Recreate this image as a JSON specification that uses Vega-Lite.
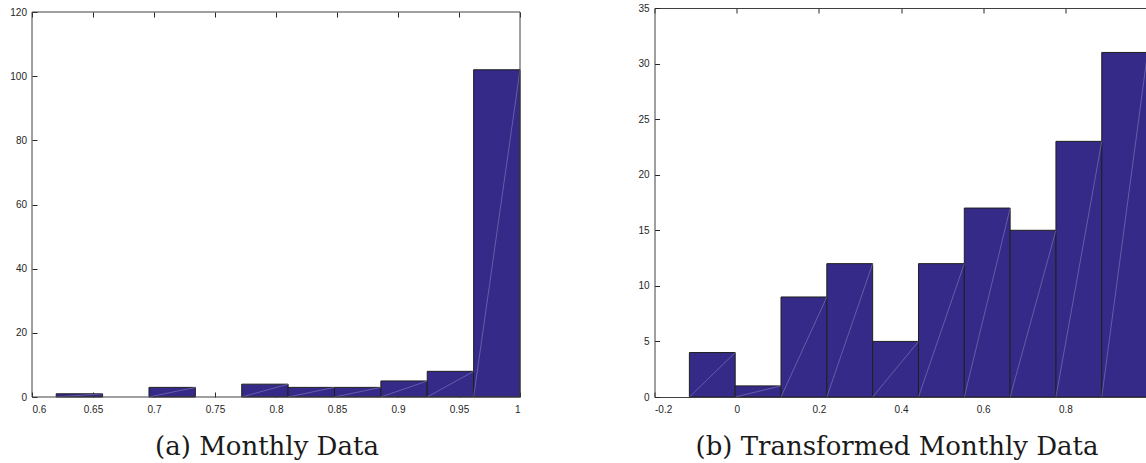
{
  "$schema": "https://vega.github.io/schema/vega-lite/v6.json",
  "background": "white",
  "padding": {"left": 9, "top": 3, "right": 0, "bottom": 0},
  "bounds": "flush",
  "spacing": 134.5,
  "config": {
    "view": {"stroke": null},
    "font": "Liberation Sans",
    "axis": {
      "grid": false,
      "title": null,
      "labelFont": "Liberation Sans",
      "labelFontSize": 10,
      "labelColor": "#262626",
      "domainColor": "#404040",
      "domainWidth": 1,
      "tickColor": "#262626",
      "tickWidth": 1,
      "tickSize": -5,
      "labelPadding": 10.5
    },
    "title": {
      "font": "DejaVu Serif",
      "fontSize": 26,
      "fontWeight": "normal",
      "color": "#1a1a1a",
      "orient": "bottom",
      "anchor": "middle",
      "offset": 20
    }
  },
  "hconcat": [
    {
      "width": 488,
      "height": 389,
      "title": {"text": "(a) Monthly Data", "dx": -9},
      "data": {
        "values": [
          {"start": 0.61985, "end": 0.65787, "count": 1},
          {"start": 0.65787, "end": 0.69588, "count": 0},
          {"start": 0.69588, "end": 0.7339, "count": 3},
          {"start": 0.7339, "end": 0.77191, "count": 0},
          {"start": 0.77191, "end": 0.80993, "count": 4},
          {"start": 0.80993, "end": 0.84794, "count": 3},
          {"start": 0.84794, "end": 0.88596, "count": 3},
          {"start": 0.88596, "end": 0.92397, "count": 5},
          {"start": 0.92397, "end": 0.96199, "count": 8},
          {"start": 0.96199, "end": 1.0, "count": 102}
        ]
      },
      "resolve": {"axis": {"x": "independent"}},
      "layer": [
        {
          "transform": [{"filter": "datum.count > 0"}],
          "mark": {"type": "rect", "fill": "#352a87", "stroke": "#1f1f1f", "strokeWidth": 1},
          "encoding": {
            "x": {
              "field": "start",
              "type": "quantitative",
              "scale": {"domain": [0.6, 1], "nice": false, "zero": false},
              "axis": {
                "orient": "bottom",
                "domain": false,
                "values": [0.6, 0.65, 0.7, 0.75, 0.8, 0.85, 0.9, 0.95, 1],
                "labelExpr": "'' + datum.value",
                "labelPadding": 12
              }
            },
            "x2": {"field": "end"},
            "y": {
              "field": "count",
              "type": "quantitative",
              "scale": {"domain": [0, 121.247], "nice": false},
              "axis": {"domain": false, "values": [0, 20, 40, 60, 80, 100, 120]}
            },
            "y2": {"datum": 0}
          }
        },
        {
          "transform": [{"filter": "datum.count > 0"}],
          "mark": {"type": "rule", "stroke": "#c9c4f0", "strokeWidth": 0.6, "opacity": 0.55},
          "encoding": {
            "x": {
              "field": "end",
              "type": "quantitative",
              "axis": {
                "orient": "top",
                "labels": false,
                "domain": false,
                "offset": -4,
                "values": [0.6, 0.65, 0.7, 0.75, 0.8, 0.85, 0.9, 0.95, 1]
              }
            },
            "x2": {"field": "start"},
            "y": {"field": "count", "type": "quantitative"},
            "y2": {"datum": 0}
          }
        },
        {
          "data": {"values": [{"frame": 1}]},
          "mark": {"type": "rect", "filled": false, "stroke": "#404040", "strokeWidth": 1},
          "encoding": {
            "x": {"datum": 0.6, "type": "quantitative", "axis": null},
            "x2": {"datum": 1},
            "y": {"datum": 0, "type": "quantitative"},
            "y2": {"datum": 120}
          }
        }
      ]
    },
    {
      "width": 492,
      "height": 389,
      "title": {"text": "(b) Transformed Monthly Data", "dx": -3.5},
      "data": {
        "values": [
          {"start": -0.1151, "end": -0.0036, "count": 4},
          {"start": -0.0036, "end": 0.1079, "count": 1},
          {"start": 0.1079, "end": 0.2194, "count": 9},
          {"start": 0.2194, "end": 0.3309, "count": 12},
          {"start": 0.3309, "end": 0.4425, "count": 5},
          {"start": 0.4425, "end": 0.554, "count": 12},
          {"start": 0.554, "end": 0.6655, "count": 17},
          {"start": 0.6655, "end": 0.777, "count": 15},
          {"start": 0.777, "end": 0.8885, "count": 23},
          {"start": 0.8885, "end": 1.0, "count": 31}
        ]
      },
      "resolve": {"axis": {"x": "independent"}},
      "layer": [
        {
          "mark": {"type": "rect", "fill": "#352a87", "stroke": "#1f1f1f", "strokeWidth": 1, "clip": true},
          "encoding": {
            "x": {
              "field": "start",
              "type": "quantitative",
              "scale": {"domain": [-0.2, 0.9974], "nice": false, "zero": false},
              "axis": {
                "orient": "bottom",
                "values": [-0.2, 0, 0.2, 0.4, 0.6, 0.8],
                "labelExpr": "'' + datum.value",
                "labelPadding": 12
              }
            },
            "x2": {"field": "end"},
            "y": {
              "field": "count",
              "type": "quantitative",
              "scale": {"domain": [0, 35], "nice": false},
              "axis": {"values": [0, 5, 10, 15, 20, 25, 30, 35]}
            },
            "y2": {"datum": 0}
          }
        },
        {
          "mark": {"type": "rule", "stroke": "#c9c4f0", "strokeWidth": 0.6, "opacity": 0.55, "clip": true},
          "encoding": {
            "x": {
              "field": "end",
              "type": "quantitative",
              "axis": {
                "orient": "top",
                "labels": false,
                "values": [-0.2, 0, 0.2, 0.4, 0.6, 0.8]
              }
            },
            "x2": {"field": "start"},
            "y": {"field": "count", "type": "quantitative"},
            "y2": {"datum": 0}
          }
        }
      ]
    }
  ]
}
